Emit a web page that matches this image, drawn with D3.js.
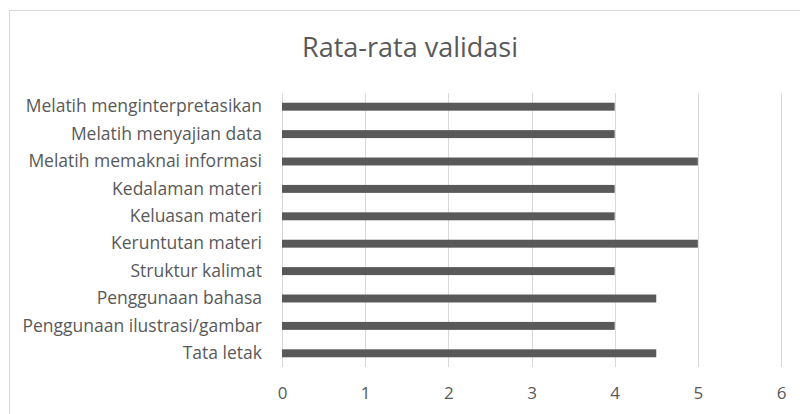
<!DOCTYPE html>
<html>
<head>
<meta charset="utf-8">
<script src="https://cdn.jsdelivr.net/npm/d3@7"></script>
<style>
  body { margin: 0; background: #fff; }
  svg { display: block; }
</style>
</head>
<body>
<div id="chart"></div>
<script>
// data, top row first
var categories = [
  "Melatih menginterpretasikan",
  "Melatih menyajian data",
  "Melatih memaknai informasi",
  "Kedalaman materi",
  "Keluasan materi",
  "Keruntutan materi",
  "Struktur kalimat",
  "Penggunaan bahasa",
  "Penggunaan ilustrasi/gambar",
  "Tata letak"
];
var values = [4, 4, 5, 4, 4, 5, 4, 4.5, 4, 4.5];
var xTicks = [0, 1, 2, 3, 4, 5, 6];
var title = "Rata-rata validasi";

var width = 800, height = 414;
var svg = d3.select("#chart").append("svg")
  .attr("width", width).attr("height", height);

// chart border (runs off the right/bottom edge like the source)
svg.append("rect")
  .attr("x", 9.5).attr("y", 10.5)
  .attr("width", 800).attr("height", 420)
  .attr("fill", "#fff").attr("stroke", "#d9d9d9");

var margin = {top: 93, right: 19, bottom: 47, left: 282};

var x = d3.scaleLinear()
  .domain([0, 6])
  .range([margin.left, width - margin.right]);

var y = d3.scaleBand()
  .domain(categories)
  .range([margin.top, height - margin.bottom])
  .paddingInner(0.71)
  .paddingOuter(0.355);

var font = "'Open Sans', sans-serif";

// gridlines
svg.append("g").selectAll("line").data(xTicks).enter().append("line")
  .attr("x1", function (d) { return Math.round(x(d)) + 0.5; })
  .attr("x2", function (d) { return Math.round(x(d)) + 0.5; })
  .attr("y1", margin.top)
  .attr("y2", height - margin.bottom)
  .attr("stroke", "#d9d9d9")
  .attr("stroke-width", 1);

// bars
svg.append("g").selectAll("rect").data(values).enter().append("rect")
  .attr("x", x(0))
  .attr("y", function (d, i) { return y(categories[i]); })
  .attr("width", function (d) { return x(d) - x(0); })
  .attr("height", y.bandwidth())
  .attr("fill", "#595959");

// category labels
var yAxis = svg.append("g")
  .attr("transform", "translate(" + (margin.left - 20) + ",0)")
  .call(d3.axisLeft(y).tickSize(0).tickPadding(0));
yAxis.select(".domain").remove();
yAxis.selectAll("text")
  .attr("fill", "#595959")
  .style("font-family", font)
  .style("font-size", "17.5px");

// x tick labels
var xAxis = svg.append("g")
  .attr("transform", "translate(0,387)")
  .call(d3.axisBottom(x).tickValues(xTicks).tickSize(0).tickPadding(0).tickFormat(d3.format("d")));
xAxis.select(".domain").remove();
xAxis.selectAll("text")
  .attr("fill", "#595959")
  .style("font-family", font)
  .style("font-size", "17px");

// title
svg.append("text")
  .attr("x", 410)
  .attr("y", 57)
  .attr("text-anchor", "middle")
  .attr("fill", "#595959")
  .style("font-family", font)
  .style("font-size", "27px")
  .text(title);
</script>
</body>
</html>
